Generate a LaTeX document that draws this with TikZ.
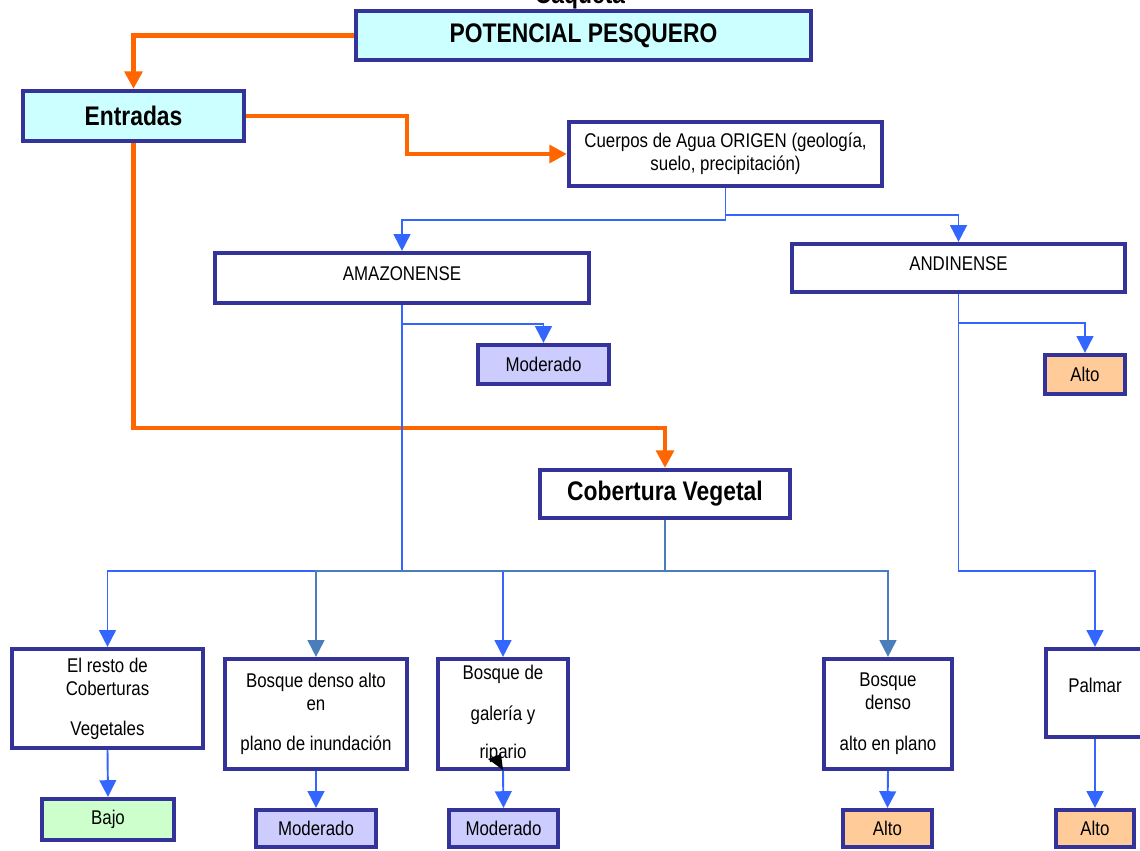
\documentclass[tikz,border=0pt]{standalone}
\usepackage{fontspec}
\setmainfont{Liberation Sans}[FakeStretch=0.85]
\usepackage{tikz}
\usetikzlibrary{arrows.meta}
\definecolor{borde}{HTML}{333399}
\definecolor{celeste}{HTML}{CCFFFF}
\definecolor{lila}{HTML}{CCCCFF}
\definecolor{salmon}{HTML}{FFCC99}
\definecolor{verdeclaro}{HTML}{CCFFCC}
\definecolor{naranja}{HTML}{FF6600}
\definecolor{azul}{HTML}{3366FF}
\definecolor{acero}{HTML}{4A7EBB}
\newcommand{\letra}{\fontsize{11.3}{13.1}\selectfont}
\newcommand{\letrab}{\fontsize{15.3}{18}\selectfont\bfseries}
\newcommand{\caja}[7]{\node[caja,#6,minimum width={(#4-#2-4)*0.02cm},minimum height={(#5-#3-4)*0.02cm}] (#1) at ({(#2+#4)/2},{(#3+#5)/2}) {#7};}
\tikzset{
  caja/.style={draw=borde,line width=2.4pt,fill=white,inner sep=0pt,align=center,font=\letra},
  titulo/.style={font=\letrab},
  flechan/.style={draw=naranja,line width=2.6pt,-{Triangle[width=10pt,length=10pt]}},
  flechaa/.style={draw=azul,line width=1.1pt,-{Triangle[width=9.5pt,length=9.5pt]}},
  flechac/.style={draw=acero,line width=1.1pt,-{Triangle[width=9.5pt,length=9.5pt]}}
}
\begin{document}
\begin{tikzpicture}[x=0.02cm,y=-0.02cm]
        \useasboundingbox (0,0) rectangle (1140,850);
        \clip (0,0) rectangle (1140,850);

        % cabecera
        \node[titulo,anchor=base] (lugar) at (580,3) {Caquetá};
        \caja{pot}{354}{9}{813}{62}{titulo,fill=celeste}{POTENCIAL PESQUERO}
        \caja{ent}{21}{89}{246}{143}{titulo,fill=celeste}{Entradas}
        \caja{cue}{567}{120}{884}{188}{}{Cuerpos de Agua ORIGEN (geología,\\suelo, precipitación)}

        % origen
        \caja{amaz}{213}{251}{591}{305}{text depth=5pt}{AMAZONENSE}
        \caja{andi}{790}{242}{1127}{294}{text depth=5pt}{ANDINENSE}
        \caja{modA}{476}{343}{611}{386}{fill=lila}{Moderado}
        \caja{altA}{1043}{353}{1127}{396}{fill=salmon}{Alto}

        % cobertura
        \caja{cob}{538}{468}{792}{520}{titulo}{Cobertura Vegetal}

        % col 1
        \caja{resto}{10}{647}{205}{750}{}{El resto de\\Coberturas\\[9.5pt]Vegetales}
        \caja{bajo}{40}{797}{176}{842}{fill=verdeclaro}{Bajo}
        % col 2
        \caja{bda}{223}{657}{409}{771}{}{Bosque denso alto\\en\\[10pt]plano de inundación}
        \caja{modB}{254}{808}{378}{849}{fill=lila}{Moderado}
        % col 3
        \caja{gal}{436}{657}{570}{771}{}{Bosque de\\[10pt]galería y\\[9pt]ripario}
        \caja{modC}{447}{808}{560}{849}{fill=lila}{Moderado}
        % col 4
        \caja{bdp}{822}{657}{954}{771}{}{Bosque\\denso\\[10pt]alto en plano}
        \caja{altB}{841}{808}{934}{849}{fill=salmon}{Alto}
        % col 5
        \caja{pal}{1044}{647}{1146}{739}{text depth=9pt}{Palmar}
        \caja{altC}{1054}{808}{1136}{849}{fill=salmon}{Alto}

        % naranja
        \draw[flechan] (pot.west) -| (ent.north);
        \draw[flechan] (ent.east) -- ++(161,0) |- (cue.west);
        \draw[flechan] (ent.south) -- ++(0,285) -| (cob.north);

        % azul arriba
        \draw[flechaa] (cue.south) -- ++(0,32) -| (amaz.north);
        \draw[flechaa] (cue.south) -- ++(0,27) -| (andi.north);
        \draw[flechaa] (amaz.south) -- ++(0,19) -| (modA.north);
        \draw[flechaa] (andi.south) -- ++(0,29) -| (altA.north);

        % azul abajo
        \draw[flechaa] (amaz.south) -- ++(0,266) -| (resto.north);
        \draw[flechaa] (amaz.south) -- ++(0,266) -| (gal.north);
        \draw[flechac] (cob.south) -- ++(0,51) -| (bda.north);
        \draw[flechac] (cob.south) -- ++(0,51) -| (bdp.north);
        \draw[flechaa] (andi.south) -- ++(0,277) -| (pal.north);

        \draw[flechaa] (resto.south) -- (bajo.north);
        \draw[flechaa] (bda.south) -- (modB.north);
        \draw[flechaa] (gal.south) -- (modC.north);
        \draw[flechaa] (bdp.south) -- (altB.north);
        \draw[flechaa] (pal.south) -- (altC.north);

        \fill (488,759) -- (501,754) -- (503,770) -- cycle;
\end{tikzpicture}
\end{document}
